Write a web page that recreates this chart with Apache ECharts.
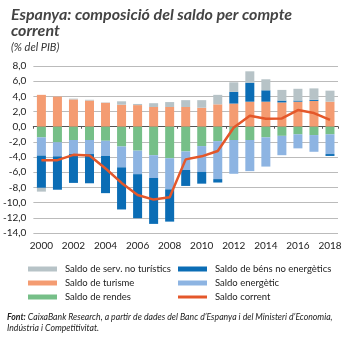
<!DOCTYPE html>
<html><head><meta charset="utf-8">
<script src="https://cdn.jsdelivr.net/npm/echarts@6/dist/echarts.min.js"></script>
<style>html,body{margin:0;padding:0;background:#fff}#c{width:356px;height:338px}</style>
</head><body><div id="c"></div>
<script>
var years = ['2000','2001','2002','2003','2004','2005','2006','2007','2008','2009','2010','2011','2012','2013','2014','2015','2016','2017','2018'];
var serveisNoTuristics = [-0.5,0.05,0.1,0.1,0.05,0.45,0.15,0.5,0.65,0.9,1.0,1.25,1.25,1.5,1.45,1.4,1.55,1.5,1.45];
var turisme = [4.2,4.0,3.6,3.45,3.15,2.9,2.85,2.6,2.6,2.6,2.5,2.95,3.05,3.3,3.3,3.2,3.3,3.4,3.3];
var rendes = [-1.4,-2.05,-1.75,-1.75,-1.85,-2.6,-3.15,-3.75,-4.15,-3.25,-2.55,-1.9,-1.75,-1.75,-1.4,-1.2,-1.0,-1.1,-1.0];
var energetic = [-2.4,-1.85,-1.85,-1.85,-2.0,-2.75,-3.1,-3.0,-4.1,-2.45,-3.4,-5.0,-4.45,-4.1,-3.85,-2.55,-1.85,-2.2,-2.6];
var bensNoEnergetics = [-4.25,-4.4,-3.8,-3.85,-4.9,-5.55,-5.8,-6.05,-4.25,-2.1,-1.55,-0.45,1.55,2.5,1.5,0.25,0.15,0.15,-0.25];
var saldoCorrent = [-4.4,-4.4,-3.7,-3.8,-5.5,-7.4,-9.0,-9.6,-9.3,-4.3,-3.9,-3.2,-0.1,1.45,1.05,1.1,2.2,1.8,0.9];
var yMin = -14, yMax = 8, yStep = 2;

var C = {serv:'#b7c3c7', tur:'#f49c72', ren:'#76bf88', ne:'#0b6db5', en:'#8db4e2', cor:'#e4572a'};
var F = 'Lato, "Liberation Sans", sans-serif';
var chart = echarts.init(document.getElementById('c'), null, {renderer:'canvas'});
function bar(name, data, color){
  return {name:name, type:'bar', stack:'s', data:data, barWidth:9, itemStyle:{color:color}, xAxisIndex:0};
}
var legText = {fontSize:9.5, color:'#222', fontFamily:F, padding:[0,0,0,3], lineHeight:12};
chart.setOption({
  animation:false,
  textStyle:{fontFamily:F},
  title:{
    text:'Espanya: composició del saldo per compte\ncorrent',
    subtext:'(% del PIB)',
    left:6, top:2, itemGap:3,
    textStyle:{fontFamily:F, fontSize:16, fontWeight:'bold', fontStyle:'italic', color:'#444', lineHeight:16},
    subtextStyle:{fontFamily:F, fontSize:11, fontStyle:'italic', color:'#333'}
  },
  grid:{left:33, top:66, width:305, height:167, containLabel:false},
  xAxis:[
    {type:'category', data:years, boundaryGap:true,
     axisLine:{onZero:true, lineStyle:{color:'#555', width:1.2}},
     axisTick:{show:true, alignWithLabel:false, length:2, inside:false, lineStyle:{color:'#555'}},
     axisLabel:{show:false}, splitLine:{show:false}},
    {type:'category', data:years, boundaryGap:true, position:'bottom',
     axisLine:{show:false, onZero:false}, axisTick:{show:false},
     axisLabel:{interval:1, fontSize:10, color:'#222', fontFamily:F, margin:8}}
  ],
  yAxis:{type:'value', min:yMin, max:yMax, interval:yStep,
    axisLine:{show:false}, axisTick:{show:false},
    axisLabel:{fontSize:10, color:'#222', fontFamily:F, margin:7,
      formatter:function(v){return v.toFixed(1).replace('.', ',');}},
    splitLine:{lineStyle:{color:'#bbb', width:1}}
  },
  legend:[
    {orient:'vertical', left:28, top:263, itemWidth:29, itemHeight:5, itemGap:2, icon:'rect', padding:0,
     textStyle:legText,
     data:['Saldo de serv. no turístics','Saldo de turisme','Saldo de rendes']},
    {orient:'vertical', left:178, top:263, itemWidth:29, itemHeight:5, itemGap:2, icon:'rect', padding:0,
     textStyle:legText,
     data:['Saldo de béns no energètics','Saldo energètic']},
    {orient:'vertical', left:178, top:291, itemWidth:29, itemHeight:3, icon:'rect', padding:0,
     textStyle:legText,
     data:['Saldo corrent']}
  ],
  graphic:[
    {type:'text', left:7, top:312, style:{
      text:'{b|Font:} CaixaBank Research, a partir de dades del Banc d’Espanya i del Ministeri d’Economia,\nIndústria i Competitivitat.',
      rich:{b:{fontWeight:'bold', fontStyle:'italic', fontSize:8.7, fontFamily:F, fill:'#222'}},
      font:'italic 8.7px '+F, fill:'#222', lineHeight:11}}
  ],
  series:[
    bar('Saldo de turisme', turisme, C.tur),
    bar('Saldo de rendes', rendes, C.ren),
    bar('Saldo energètic', energetic, C.en),
    bar('Saldo de béns no energètics', bensNoEnergetics, C.ne),
    bar('Saldo de serv. no turístics', serveisNoTuristics, C.serv),
    {name:'Saldo corrent', type:'line', data:saldoCorrent, xAxisIndex:0, symbol:'none',
     lineStyle:{color:C.cor, width:2.5}, itemStyle:{color:C.cor}, z:5}
  ]
});
</script></body></html>
